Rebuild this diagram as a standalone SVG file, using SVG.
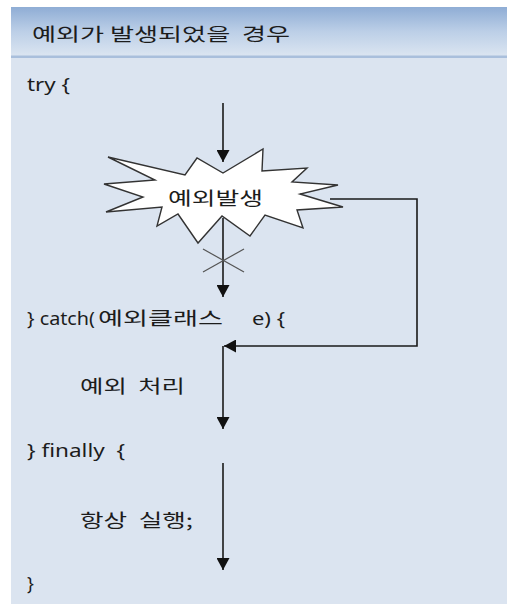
<svg xmlns="http://www.w3.org/2000/svg" width="507" height="604" viewBox="0 0 507 604">
<defs>
<linearGradient id="hdr" x1="0" y1="0" x2="0" y2="1">
<stop offset="0" stop-color="#8fadd5"/>
<stop offset="0.5" stop-color="#bccfe7"/>
<stop offset="1" stop-color="#dbe5f1"/>
</linearGradient>
<marker id="arr" markerUnits="userSpaceOnUse" markerWidth="13" markerHeight="13" refX="12" refY="6.5" orient="auto">
<path d="M0,0 L12,6.5 L0,13 z" fill="#111"/>
</marker>
<style>
.t{font-family:"Noto Sans","Noto Sans CJK KR",sans-serif;font-size:18px;fill:#1c1c1c;white-space:pre}
.k{font-family:"Noto Sans CJK KR","Noto Sans",sans-serif;font-size:18px;fill:#1c1c1c;white-space:pre}
.ln{stroke:#1a1a1a;stroke-width:1.6;fill:none}
.x{stroke:#555;stroke-width:1.2}
</style>
</defs>
<rect width="507" height="604" fill="#ffffff"/>
<g id="panel">
<rect x="11" y="7" width="496" height="597" fill="#dbe4f0"/>
<rect x="11" y="7" width="496" height="49" fill="url(#hdr)"/>
<rect x="11" y="55.5" width="496" height="2.5" fill="#a9bfdc"/>
<text class="k" x="32" y="41" textLength="258" lengthAdjust="spacingAndGlyphs" font-size="19">예외가 발생되었을  경우</text>
</g>
<g id="code">
<text class="t" x="27" y="91" textLength="43" lengthAdjust="spacingAndGlyphs">try {</text>
<text id="catch" y="325"><tspan class="t" x="27" textLength="68" lengthAdjust="spacingAndGlyphs">} catch(</tspan><tspan class="k" x="98" textLength="125" lengthAdjust="spacingAndGlyphs" font-size="19">예외클래스</tspan><tspan class="t" x="252" textLength="33" lengthAdjust="spacingAndGlyphs">e) {</tspan></text>
<text class="k" x="80" y="393" textLength="105" lengthAdjust="spacingAndGlyphs">예외  처리</text>
<text class="t" x="27" y="457" textLength="98" lengthAdjust="spacingAndGlyphs">} finally  {</text>
<text class="k" x="80" y="527" textLength="113" lengthAdjust="spacingAndGlyphs">항상  실행;</text>
<text class="t" x="27" y="590">}</text>
</g>
<g id="connectors">
<line class="ln" x1="223" y1="103" x2="223" y2="162" marker-end="url(#arr)"/>
<line class="ln" x1="223" y1="218" x2="223" y2="297" marker-end="url(#arr)"/>
<line class="x" x1="203" y1="249" x2="244" y2="272"/>
<line class="x" x1="203" y1="272" x2="244" y2="249"/>
<polyline class="ln" points="330,199 417,199 417,346 224,346" marker-end="url(#arr)"/>
<line class="ln" x1="223" y1="346" x2="223" y2="429" marker-end="url(#arr)"/>
<line class="ln" x1="223" y1="463" x2="223" y2="570" marker-end="url(#arr)"/>
</g>
<g id="exception">
<polygon points="108,157 185,175 197,158 223,173 263,149 262,171 307,168 292,182 338,185 300,194 343,207 297,210 303,228 265,215 250,236 222,216 198,243 178,214 157,226 162,207 106,212 143,197 104,184 155,180" fill="#ffffff" stroke="#333" stroke-width="1.4" stroke-linejoin="miter"/>
<text class="k" x="168" y="205" textLength="95" lengthAdjust="spacingAndGlyphs">예외발생</text>
</g>
</svg>
